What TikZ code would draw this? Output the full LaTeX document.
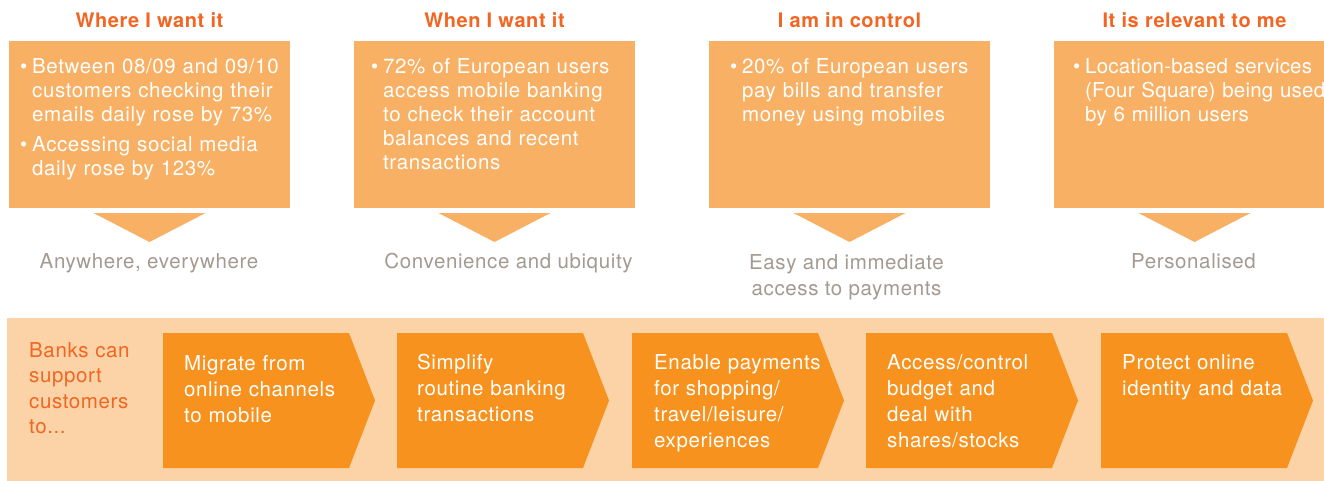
\documentclass[tikz,border=0pt]{standalone}
\usepackage{fontspec}
\setmainfont{TeX Gyre Heros}[LetterSpace=3]
\usetikzlibrary{positioning}
\definecolor{headOrange}{HTML}{F26522}
\definecolor{factFill}{HTML}{F8B064}
\definecolor{bandFill}{HTML}{FBD3A6}
\definecolor{stepFill}{HTML}{F7921E}
\definecolor{mutedText}{HTML}{A39A92}

\begin{document}
\begin{tikzpicture}[x=1pt, y=-1pt,
    every node/.style={inner sep=0pt, font=\fontsize{20.5}{24}\selectfont},
    head/.style={color=headOrange, anchor=base, font=\fontsize{20}{24}\selectfont\bfseries},
    facts/.style={color=white, anchor=base west, text width=#1, align=left},
    outcome/.style={color=mutedText, anchor=base, align=center},
    steptext/.style={color=white, anchor=base west, text width=180pt, align=left,
      font=\fontsize{20.5}{26}\selectfont}]
  \clip (0,0) rectangle (1324,481);
  \fill[white] (0,0) rectangle (1324,481);
  % four columns: heading, fact box, pointer, outcome
  \foreach \x in {9, 354, 709, 1054} {
    \fill[factFill] (\x,41) rectangle ++(281,167);
    \fill[factFill] (\x+84.5,213) -- ++(112,0) -- ++(-56,29) -- cycle;
  }
  \node[head] (where) at (149.5,28) {Where I want it};
  \node[head] (when) at (494.5,28) {When I want it};
  \node[head] (control) at (849.5,28) {I am in control};
  \node[head] (relevant) at (1194.5,28) {It is relevant to me};

  \node[facts=255pt] (emails) at (32,74)
    {\llap{\textbullet\hspace{5pt}}Between 08/09 and 09/10\\
     customers checking their\\
     emails daily rose by 73\%};
  \node[facts=255pt] (social) at (32,152)
    {\llap{\textbullet\hspace{5pt}}Accessing social media\\
     daily rose by 123\%};
  \node[facts=250pt] (balances) at (383,74)
    {\llap{\textbullet\hspace{5pt}}72\% of European users\\
     access mobile banking\\
     to check their account\\
     balances and recent\\
     transactions};
  \node[facts=250pt] (bills) at (742,74)
    {\llap{\textbullet\hspace{5pt}}20\% of European users\\
     pay bills and transfer\\
     money using mobiles};
  \node[facts=270pt, font=\fontsize{20.5}{24}\selectfont\addfontfeatures{LetterSpace=1}]
    (location) at (1085,74)
    {\llap{\textbullet\hspace{5pt}}Location-based services\\
     (Four Square) being used\\
     by 6 million users};

  \node[outcome] (anywhere) at (149,268) {Anywhere, everywhere};
  \node[outcome] (ubiquity) at (508.5,268) {Convenience and ubiquity};
  \node[outcome, font=\fontsize{20.5}{26}\selectfont] (easy) at (846.5,295)
    {Easy and immediate\\access to payments};
  \node[outcome] (personal) at (1193.5,268) {Personalised};

  % support band with chevrons
  \fill[bandFill] (7,318) rectangle (1324,481);
  \foreach \x in {163, 397, 632, 866, 1101}
    \fill[stepFill] (\x,333) -- ++(186,0) -- ++(26,67.5) -- ++(-26,67.5)
      -- ++(-186,0) -- cycle;
  \node[color=headOrange, anchor=base west, text width=120pt, align=left,
    font=\fontsize{20.5}{25.5}\selectfont] (banks) at (29,357)
    {Banks can\\support\\customers\\to...};
  \node[steptext] (migrate) at (184,370)
    {Migrate from\\online channels\\to mobile};
  \node[steptext] (simplify) at (417,369)
    {Simplify\\routine banking\\transactions};
  \node[steptext] (enable) at (654,369)
    {Enable payments\\for shopping/\\travel/leisure/\\experiences};
  \node[steptext] (budget) at (887,369)
    {Access/control\\budget and\\deal with\\shares/stocks};
  \node[steptext] (protect) at (1122,369)
    {Protect online\\identity and data};
\end{tikzpicture}
\end{document}
